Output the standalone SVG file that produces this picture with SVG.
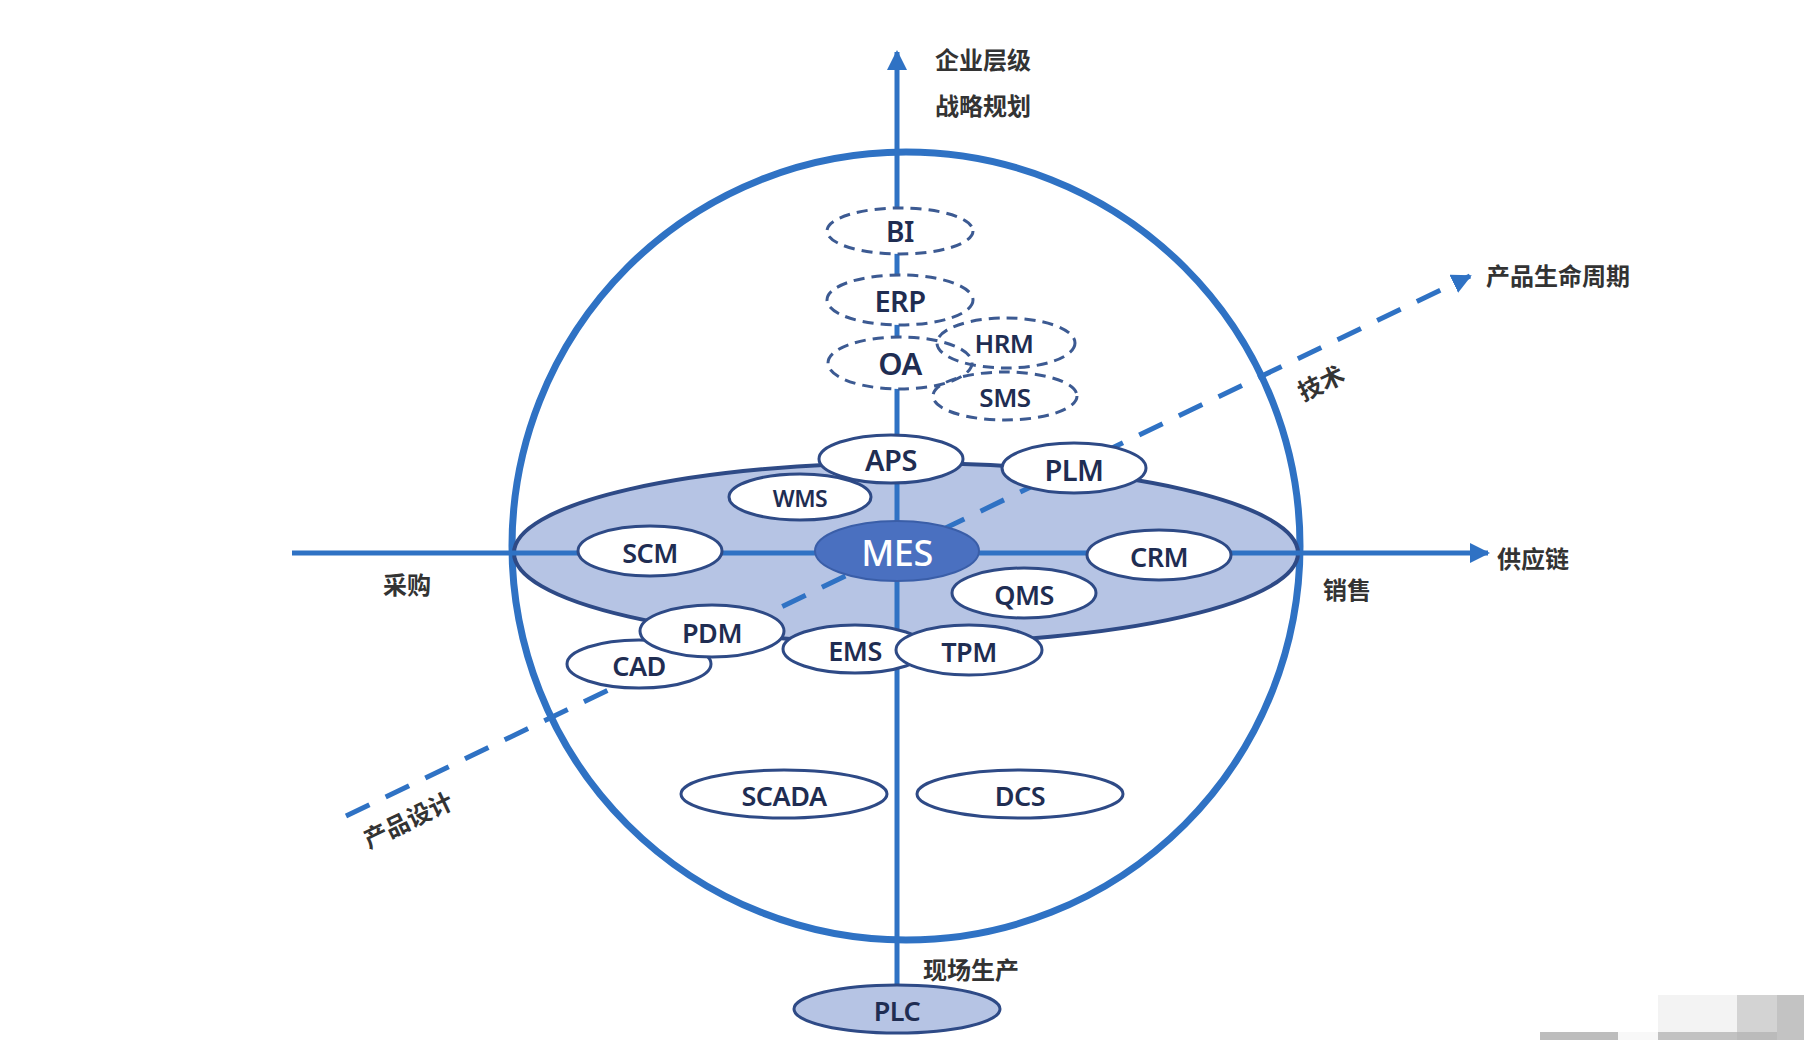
<svg xmlns="http://www.w3.org/2000/svg" width="1804" height="1040" viewBox="0 0 1804 1040">
<defs>
<style>
.cn{font-family:"Noto Sans CJK SC","Noto Sans",sans-serif;font-weight:700;fill:#333333;font-size:24px}
.lbl{font-family:"Noto Sans","Liberation Sans",sans-serif;font-weight:600;fill:#1f2d52;text-anchor:middle;dominant-baseline:central;letter-spacing:-0.5px}
.node{fill:#ffffff;stroke:#2e4a86;stroke-width:3}
.dnode{fill:#ffffff;stroke:#3c5a92;stroke-width:3;stroke-dasharray:11 7}
.axis{stroke:#2f72c4;stroke-width:5;fill:none}
</style>
<marker id="arr" viewBox="0 0 10 10" refX="9" refY="5" markerWidth="4" markerHeight="4" orient="auto" markerUnits="strokeWidth">
<path d="M0,0 L10,5 L0,10 z" fill="#2f72c4"/>
</marker>
</defs>
<rect width="1804" height="1040" fill="#ffffff"/>

<g id="sphere">
<circle cx="906" cy="546" r="394" fill="none" stroke="#2f72c4" stroke-width="7"/>
</g>
<g id="disc">
<ellipse cx="906" cy="553" rx="392" ry="90" fill="#b6c4e4" stroke="#2e4a86" stroke-width="4"/>
</g>

<g id="connectors">
<line class="axis" x1="897" y1="984" x2="897" y2="52" marker-end="url(#arr)"/>
<line class="axis" x1="292" y1="553" x2="1488" y2="553" marker-end="url(#arr)"/>
<line x1="346" y1="816" x2="1470" y2="276" stroke="#2f72c4" stroke-width="5" stroke-dasharray="26 18" marker-end="url(#arr)"/>
</g>

<g id="labels">
<text class="cn" x="935" y="69">企业层级</text>
<text class="cn" x="935" y="115">战略规划</text>
<text class="cn" x="1486" y="285">产品生命周期</text>
<text class="cn" x="1497" y="568">供应链</text>
<text class="cn" x="407" y="594" text-anchor="middle">采购</text>
<text class="cn" x="1347" y="599" text-anchor="middle">销售</text>
<text class="cn" x="923" y="979">现场生产</text>
<text class="cn" x="1321" y="392" text-anchor="middle" transform="rotate(-25.7 1321 383)">技术</text>
<text class="cn" x="408" y="829" text-anchor="middle" transform="rotate(-25.7 408 820)">产品设计</text>
</g>

<g id="node-BI"><ellipse class="dnode" cx="900" cy="231" rx="73" ry="23"/><text class="lbl" x="900" y="231" font-size="28">BI</text></g>
<g id="node-ERP"><ellipse class="dnode" cx="900" cy="300" rx="73" ry="25"/><text class="lbl" x="900" y="300" font-size="29">ERP</text></g>
<g id="node-OA"><ellipse class="dnode" cx="900" cy="363" rx="72" ry="26"/><text class="lbl" x="900" y="363" font-size="31">OA</text></g>
<g id="node-HRM"><ellipse class="dnode" cx="1006" cy="343" rx="69" ry="25" fill-opacity="0"/><text class="lbl" x="1004" y="343" font-size="26">HRM</text></g>
<g id="node-SMS"><ellipse class="dnode" cx="1005" cy="396" rx="72" ry="24" fill-opacity="0"/><text class="lbl" x="1005" y="397" font-size="26">SMS</text></g>

<g id="node-WMS"><ellipse class="node" cx="800" cy="497" rx="71" ry="23"/><text class="lbl" x="800" y="498" font-size="23">WMS</text></g>
<g id="node-APS"><ellipse class="node" cx="891" cy="459" rx="72" ry="24"/><text class="lbl" x="891" y="459" font-size="29">APS</text></g>
<g id="node-PLM"><ellipse class="node" cx="1074" cy="468" rx="72" ry="25"/><text class="lbl" x="1074" y="469" font-size="29">PLM</text></g>
<g id="node-SCM"><ellipse class="node" cx="650" cy="551" rx="72" ry="25"/><text class="lbl" x="650" y="552" font-size="27">SCM</text></g>
<g id="node-MES"><ellipse cx="897" cy="551" rx="82" ry="30" fill="#4a70c0" stroke="#3a5ea8" stroke-width="2"/><text class="lbl" x="897" y="552" font-size="36" style="fill:#ffffff;font-weight:500">MES</text></g>
<g id="node-CRM"><ellipse class="node" cx="1159" cy="555" rx="72" ry="25"/><text class="lbl" x="1159" y="556" font-size="27">CRM</text></g>
<g id="node-QMS"><ellipse class="node" cx="1024" cy="593" rx="72" ry="25"/><text class="lbl" x="1024" y="594" font-size="27">QMS</text></g>
<g id="node-CAD"><ellipse class="node" cx="639" cy="664" rx="72" ry="24"/><text class="lbl" x="639" y="665" font-size="27">CAD</text></g>
<g id="node-PDM"><ellipse class="node" cx="712" cy="631" rx="72" ry="26"/><text class="lbl" x="712" y="632" font-size="27">PDM</text></g>
<g id="node-EMS"><ellipse class="node" cx="855" cy="649" rx="72" ry="24"/><text class="lbl" x="855" y="650" font-size="27">EMS</text></g>
<g id="node-TPM"><ellipse class="node" cx="969" cy="650" rx="73" ry="25"/><text class="lbl" x="969" y="651" font-size="27">TPM</text></g>
<g id="node-SCADA"><ellipse class="node" cx="784" cy="794" rx="103" ry="24"/><text class="lbl" x="784" y="795" font-size="27">SCADA</text></g>
<g id="node-DCS"><ellipse class="node" cx="1020" cy="794" rx="103" ry="24"/><text class="lbl" x="1020" y="795" font-size="27">DCS</text></g>
<g id="node-PLC"><ellipse cx="897" cy="1009" rx="103" ry="24" fill="#b6c4e4" stroke="#2e4a86" stroke-width="3"/><text class="lbl" x="897" y="1010" font-size="27">PLC</text></g>

<g id="mosaic">
<rect x="1658" y="995" width="79" height="37" fill="#f3f3f3"/>
<rect x="1737" y="995" width="40" height="37" fill="#d3d3d3"/>
<rect x="1777" y="995" width="27" height="45" fill="#c3c3c3"/>
<rect x="1540" y="1032" width="78" height="8" fill="#bdbdbd"/>
<rect x="1618" y="1032" width="40" height="8" fill="#f8f8f8"/>
<rect x="1658" y="1032" width="79" height="8" fill="#c2c2c2"/>
<rect x="1737" y="1032" width="40" height="8" fill="#bbbbbb"/>
</g>
</svg>
